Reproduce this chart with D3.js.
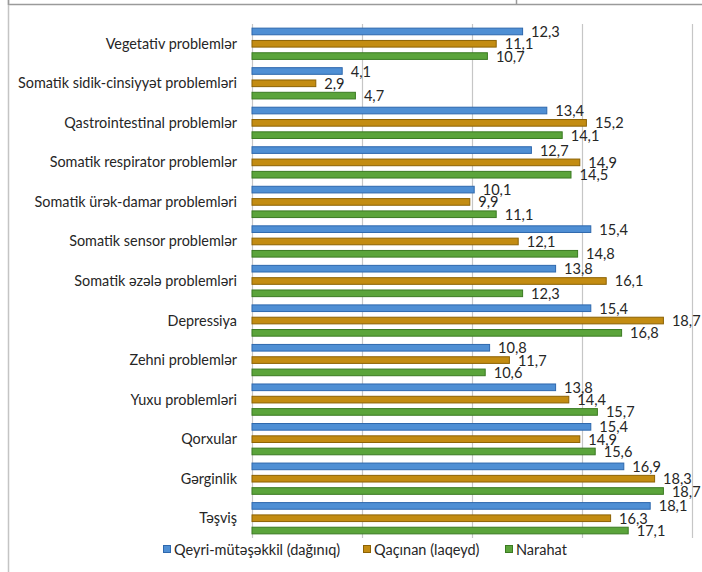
<!DOCTYPE html>
<html>
<head>
<meta charset="utf-8">
<script src="https://cdn.jsdelivr.net/npm/d3@7"></script>
<style>
  html, body { margin: 0; padding: 0; background: #fff; }
  svg { display: block; }
  text { font-family: Lato, "Open Sans", sans-serif; fill: #262626; }
</style>
</head>
<body>
<svg id="chart" width="702" height="572"></svg>
<script>
// Categories, top to bottom
const categories = [
  "Vegetativ problemlər",
  "Somatik sidik-cinsiyyət problemləri",
  "Qastrointestinal problemlər",
  "Somatik respirator problemlər",
  "Somatik ürək-damar problemləri",
  "Somatik sensor problemlər",
  "Somatik əzələ problemləri",
  "Depressiya",
  "Zehni problemlər",
  "Yuxu problemləri",
  "Qorxular",
  "Gərginlik",
  "Təşviş"
];

const seriesNames = ["Qeyri-mütəşəkkil (dağınıq)", "Qaçınan (laqeyd)", "Narahat"];

const disorganized = [12.3, 4.1, 13.4, 12.7, 10.1, 15.4, 13.8, 15.4, 10.8, 13.8, 15.4, 16.9, 18.1];
const avoidant     = [11.1, 2.9, 15.2, 14.9, 9.9, 12.1, 16.1, 18.7, 11.7, 14.4, 14.9, 18.3, 16.3];
const anxious      = [10.7, 4.7, 14.1, 14.5, 11.1, 14.8, 12.3, 16.8, 10.6, 15.7, 15.6, 18.7, 17.1];

const xTicks = [0, 5, 10, 15, 20];

const seriesValues = [disorganized, avoidant, anxious];
const fills   = ["#4f8fd4", "#c38c12", "#5ba43b"];
const strokes = ["#2e68ad", "#8c6204", "#3b7a22"];

const svg = d3.select("#chart");

// Frame lines around the chart area
svg.append("line").attr("x1", 8).attr("x2", 702).attr("y1", 4.5).attr("y2", 4.5)
  .attr("stroke", "#9a9a9a").attr("stroke-width", 1.5);
svg.append("line").attr("x1", 8.5).attr("x2", 8.5).attr("y1", 0).attr("y2", 572)
  .attr("stroke", "#c4c4c4").attr("stroke-width", 1.5);
svg.append("line").attr("x1", 8.5).attr("x2", 8.5).attr("y1", 0).attr("y2", 5)
  .attr("stroke", "#9a9a9a").attr("stroke-width", 1.5);
svg.append("line").attr("x1", 516.5).attr("x2", 516.5).attr("y1", 0).attr("y2", 5)
  .attr("stroke", "#9a9a9a").attr("stroke-width", 1.5);

const x = d3.scaleLinear().domain([0, 20]).range([252, 692]);
const y = d3.scaleBand().domain(categories).range([24, 538]).paddingInner(0).paddingOuter(0);
const yInner = d3.scaleBand().domain(d3.range(3))
  .range([1.3, y.bandwidth() - 1.3]).paddingInner(0.46).paddingOuter(0.23);

// Vertical gridlines
svg.append("g").selectAll("line").data(xTicks).join("line")
  .attr("x1", d => Math.round(x(d)) + 0.5).attr("x2", d => Math.round(x(d)) + 0.5)
  .attr("y1", 24).attr("y2", 538)
  .attr("stroke", "#c6c6c6").attr("stroke-width", 1.2);

// Bars grouped by category
const groups = svg.append("g").selectAll("g").data(categories).join("g")
  .attr("transform", c => `translate(0,${y(c)})`);

groups.selectAll("rect").data((c, i) => seriesValues.map((vals, s) => ({ s, v: vals[i] })))
  .join("rect")
  .attr("x", x(0))
  .attr("y", d => yInner(d.s))
  .attr("width", d => x(d.v) - x(0))
  .attr("height", yInner.bandwidth())
  .attr("fill", d => fills[d.s])
  .attr("stroke", d => strokes[d.s])
  .attr("stroke-width", 1);

const fmt = v => d3.format(".1f")(v).replace(".", ",");

groups.selectAll("text.val").data((c, i) => seriesValues.map((vals, s) => ({ s, v: vals[i] })))
  .join("text")
  .attr("class", "val")
  .attr("x", d => x(d.v) + 8.5)
  .attr("y", d => yInner(d.s) + yInner.bandwidth() / 2 + 5.5)
  .attr("font-size", 14.6)
  .text(d => fmt(d.v));

// Category labels
svg.append("g").selectAll("text").data(categories).join("text")
  .attr("x", 237)
  .attr("y", c => y(c) + y.bandwidth() / 2 + 5)
  .attr("text-anchor", "end")
  .attr("font-size", 14.4)
  .text(c => c);

// Legend
const legendX = [163, 363, 505];
const legend = svg.append("g").selectAll("g").data(seriesNames).join("g")
  .attr("transform", (d, i) => `translate(${legendX[i]},550)`);
legend.append("rect").attr("x", 0.5).attr("y", -4.5).attr("width", 7).attr("height", 7)
  .attr("fill", (d, i) => fills[i]).attr("stroke", (d, i) => strokes[i]);
legend.append("text").attr("x", 11).attr("y", 4.5).attr("font-size", 14.5).text(d => d);
</script>
</body>
</html>
